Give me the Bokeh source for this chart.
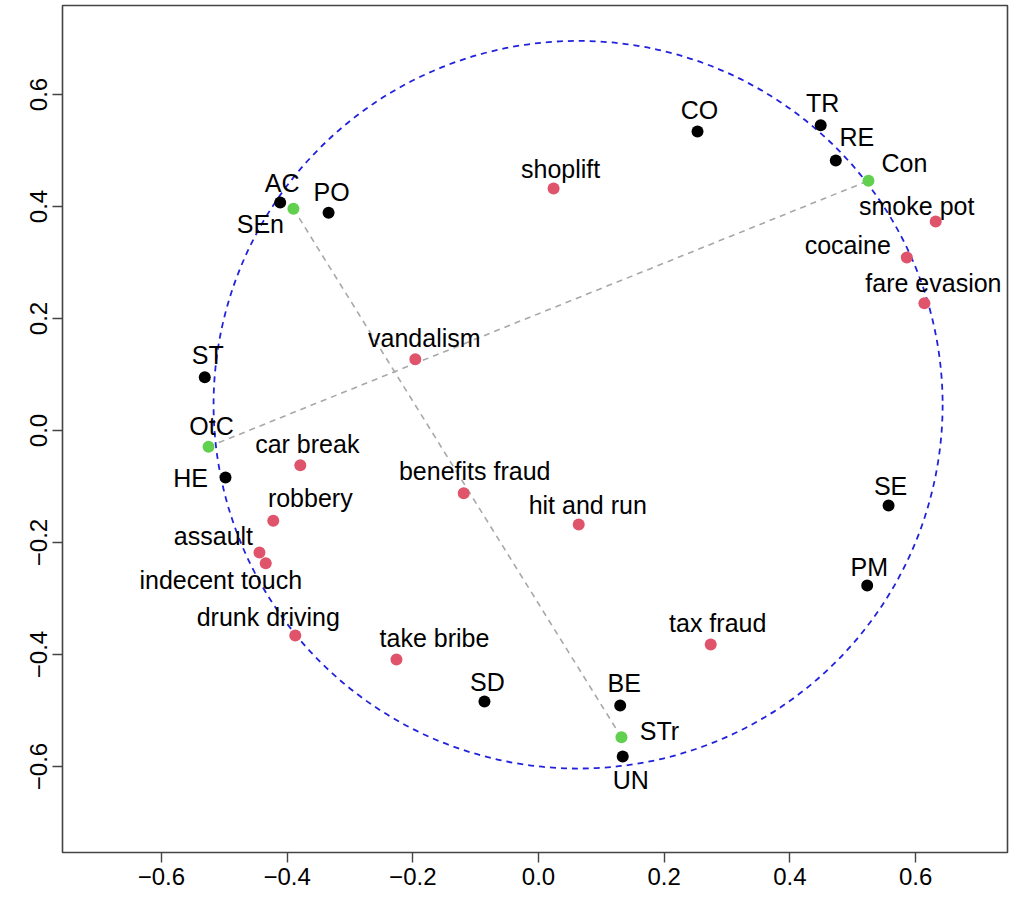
from bokeh.plotting import figure
from bokeh.models import ColumnDataSource, FixedTicker, Range1d
from bokeh.core.properties import value
from bokeh.embed import file_html
from bokeh.resources import INLINE

# ---- data ----
ind_labels = ["CO", "TR", "RE", "AC", "PO", "ST", "HE", "SE", "PM", "SD", "BE", "UN"]
ind_x = [0.253, 0.449, 0.473, -0.411, -0.334, -0.531, -0.498, 0.557, 0.523, -0.086, 0.130, 0.134]
ind_y = [0.534, 0.545, 0.482, 0.407, 0.389, 0.095, -0.084, -0.134, -0.277, -0.484, -0.491, -0.582]

sup_labels = ["Con", "SEn", "OtC", "STr"]
sup_x = [0.525, -0.390, -0.525, 0.132]
sup_y = [0.446, 0.396, -0.029, -0.548]

crime_labels = ["shoplift", "smoke pot", "cocaine", "fare evasion", "vandalism", "car break",
                "benefits fraud", "hit and run", "robbery", "assault", "indecent touch",
                "drunk driving", "take bribe", "tax fraud"]
crime_x = [0.024, 0.632, 0.586, 0.614, -0.196, -0.379, -0.119, 0.064, -0.422, -0.444, -0.434,
           -0.387, -0.226, 0.274]
crime_y = [0.432, 0.373, 0.309, 0.227, 0.127, -0.062, -0.112, -0.168, -0.161, -0.218, -0.237,
           -0.366, -0.409, -0.382]

# segments joining supplementary points (by name)
segments = [("SEn", "STr"), ("OtC", "Con")]

# circle (ellipse in data units)
circ_cx, circ_cy = 0.063, 0.046
circ_w, circ_h = 1.160, 1.300

tick_values = [-0.6, -0.4, -0.2, 0.0, 0.2, 0.4, 0.6]
tick_labels = ["\u22120.6", "\u22120.4", "\u22120.2", "0.0", "0.2", "0.4", "0.6"]

# ---- label placement (screen pixel offsets, style only) ----
label_offsets = {
    "CO": (2, -21), "TR": (2, -22), "RE": (21, -24), "Con": (36, -18),
    "smoke pot": (-19, -16), "cocaine": (-59, -12), "fare evasion": (9, -20),
    "shoplift": (7, -20), "AC": (2, -20), "PO": (3, -21), "SEn": (-33, 15),
    "vandalism": (9, -21), "ST": (3, -22), "OtC": (3, -21), "car break": (7, -21),
    "HE": (-35, 0), "benefits fraud": (11, -22), "hit and run": (9, -20),
    "robbery": (37, -23), "assault": (-46, -17), "indecent touch": (-45, 17),
    "drunk driving": (-27, -18), "take bribe": (38, -22), "tax fraud": (7, -21),
    "SE": (2, -20), "PM": (2, -19), "SD": (3, -20), "BE": (4, -22),
    "STr": (38, -6), "UN": (8, 24),
}

FONT = "Liberation Sans"
FS = "25px"
TFS = "24px"

p = figure(frame_width=945, frame_height=847,
           x_range=Range1d(-0.75736, 0.74622), y_range=Range1d(-0.7536, 0.7589),
           output_backend="svg", toolbar_location=None,
           min_border_left=62, min_border_right=2, min_border_top=5, min_border_bottom=48,
           background_fill_color="white", border_fill_color="white")
p.grid.visible = False
p.outline_line_color = "#444444"
p.outline_line_width = 1.6

for ax in (p.xaxis[0], p.yaxis[0]):
    ax.ticker = FixedTicker(ticks=tick_values)
    ax.major_label_overrides = dict(zip(tick_values, tick_labels))
    ax.axis_line_color = None
    ax.major_tick_in = 0
    ax.major_tick_out = 10
    ax.major_tick_line_color = "#444444"
    ax.major_tick_line_width = 1.4
    ax.minor_tick_line_color = None
    ax.major_label_text_font = FONT
    ax.major_label_text_font_size = TFS
    ax.major_label_text_color = "black"
    ax.major_label_standoff = 5
p.yaxis[0].major_label_orientation = "vertical"

# circle
p.ellipse(x=[circ_cx], y=[circ_cy], width=[circ_w], height=[circ_h],
          fill_color=None, line_color="#2222DD", line_width=1.8, line_dash="6 5")

# gray segments
pos = dict(zip(sup_labels, zip(sup_x, sup_y)))
for a, b in segments:
    p.line(x=[pos[a][0], pos[b][0]], y=[pos[a][1], pos[b][1]],
           line_color="#A8A8A8", line_width=1.6, line_dash="6 5")

# points
p.scatter(x=crime_x, y=crime_y, size=12, fill_color="#DF536B", line_color=None)
p.scatter(x=ind_x, y=ind_y, size=12, fill_color="black", line_color=None)
p.scatter(x=sup_x, y=sup_y, size=12, fill_color="#61D04F", line_color=None)

# labels
all_labels = ind_labels + sup_labels + crime_labels
all_x = ind_x + sup_x + crime_x
all_y = ind_y + sup_y + crime_y
src = ColumnDataSource(dict(
    x=all_x, y=all_y, text=all_labels,
    dx=[label_offsets[t][0] for t in all_labels],
    dy=[label_offsets[t][1] for t in all_labels],
))
p.text(x="x", y="y", text="text", x_offset="dx", y_offset="dy", source=src,
       text_font=value(FONT), text_font_size=FS, text_color="black",
       text_align="center", text_baseline="middle")

open("out.html", "w").write(file_html(p, INLINE))
